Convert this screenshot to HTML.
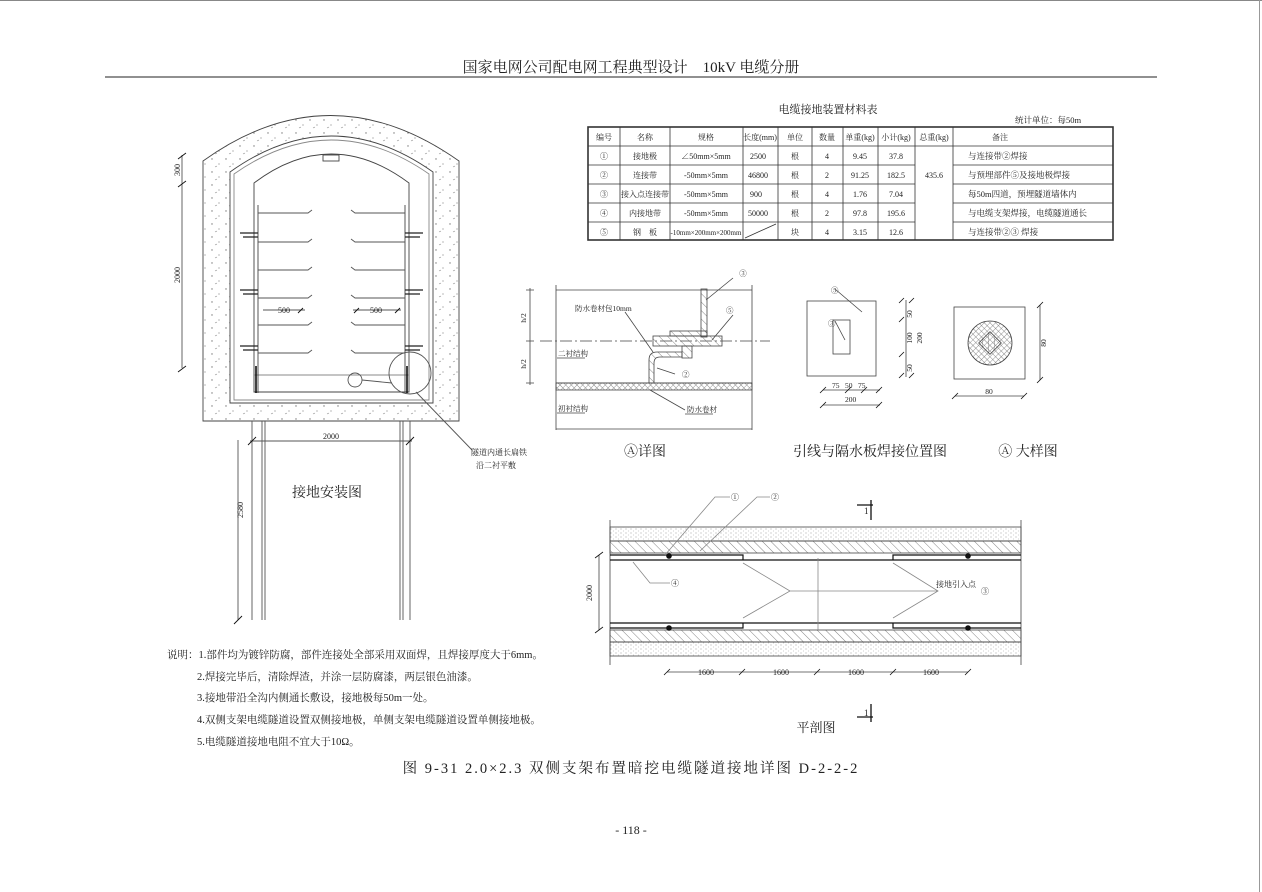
<!DOCTYPE html>
<html><head><meta charset="utf-8"><style>
html,body{margin:0;padding:0;background:#fff;}
svg{display:block;}
text{font-family:"Liberation Serif","Noto Serif CJK SC","Noto Sans CJK SC",serif;fill:#222;}
</style></head><body>
<svg width="1262" height="892" viewBox="0 0 1262 892" xmlns="http://www.w3.org/2000/svg">
<defs>
<pattern id="dots" width="14" height="13" patternUnits="userSpaceOnUse">
<circle cx="2" cy="3" r="0.7" fill="#777"/><circle cx="9" cy="8" r="0.6" fill="#888"/><path d="M5 11l2 -1" stroke="#888" stroke-width="0.6"/>
</pattern>
<pattern id="fdots" width="5" height="4" patternUnits="userSpaceOnUse">
<circle cx="1" cy="1" r="0.5" fill="#888"/><circle cx="3.5" cy="3" r="0.4" fill="#999"/>
</pattern>
<pattern id="hatch" width="6" height="6" patternUnits="userSpaceOnUse" patternTransform="rotate(-45)">
<line x1="0" y1="0" x2="0" y2="6" stroke="#666" stroke-width="0.8"/>
</pattern>
<pattern id="xh" width="4" height="4" patternUnits="userSpaceOnUse" patternTransform="rotate(45)">
<path d="M0 0V4M0 0H4" stroke="#666" stroke-width="0.7"/>
</pattern>
</defs>
<g fill="none" stroke="#333" stroke-width="1">
<line x1="0" y1="0.5" x2="1262" y2="0.5" stroke="#888"/>
<line x1="1259.5" y1="0" x2="1259.5" y2="892" stroke="#999"/>
<line x1="105" y1="77" x2="1157" y2="77" stroke="#222"/>
</g>
<text x="631" y="72" font-size="15" text-anchor="middle">国家电网公司配电网工程典型设计　10kV 电缆分册</text>

<!-- Tunnel -->
<g stroke="#444" stroke-width="0.9">
<path d="M203 421 V161 Q330 70 459 161 V421 Z" fill="url(#dots)"/>
<path d="M230 403 V172 Q331 100 433 172 V403 Z" fill="#fff"/>
<path d="M234 400 V174 Q331 106 429 174 V400 Z" fill="none" stroke="#888"/>
<path d="M254 392 V183 Q331 125 409 183 V392 Z" fill="#fff"/>
<rect x="323" y="155" width="16" height="6" fill="#fff"/>
<line x1="254" y1="375" x2="409" y2="375" stroke="#888"/>
<line x1="258" y1="205" x2="258" y2="393"/><line x1="405" y1="205" x2="405" y2="393"/>
<path d="M256 393 V366 M407 393 V366" stroke="#111" stroke-width="1.6"/>
</g>
<g stroke="#555" stroke-width="0.9" fill="none">
<path d="M258 213h50l4-3M258 242h50l4-3M258 270h50l4-3M258 298h50l4-3M258 325h50l4-3M258 353h50l4-3"/>
<path d="M405 213h-50l-4-3M405 242h-50l-4-3M405 270h-50l-4-3M405 298h-50l-4-3M405 325h-50l-4-3M405 353h-50l-4-3"/>
<path d="M240 233h18M243 237h15M240 290h18M243 294h15M240 346h18M243 350h15M405 233h18M405 237h15M405 290h18M405 294h15M405 346h18M405 350h15" stroke="#222" stroke-width="1.3"/>
<line x1="263" y1="310" x2="305" y2="310"/><line x1="353" y1="310" x2="401" y2="310"/>
<circle cx="355" cy="380" r="7"/><line x1="362" y1="380" x2="392" y2="383"/>
<circle cx="410" cy="373" r="21"/>
<line x1="416" y1="392" x2="472" y2="450"/>
<line x1="252" y1="421" x2="252" y2="620"/><line x1="262" y1="421" x2="262" y2="620"/><line x1="265" y1="421" x2="265" y2="620"/>
<line x1="400" y1="421" x2="400" y2="620"/><line x1="403" y1="421" x2="403" y2="620"/><line x1="410" y1="421" x2="410" y2="620"/>
<line x1="250" y1="441" x2="412" y2="441"/>
<line x1="238" y1="440" x2="238" y2="620"/>
<line x1="182" y1="155" x2="182" y2="368"/>
<path d="M178 159l8-6M178 187l8-6M178 372l8-6M248 445l8-8M406 445l8-8M234 624l8-8M298 313l5-5M354 313l5-5M395 313l5-5" stroke="#111"/>
</g>
<g font-size="8">
<text x="180" y="170" transform="rotate(-90 180 170)" text-anchor="middle">300</text>
<text x="180" y="275" transform="rotate(-90 180 275)" text-anchor="middle">2000</text>
<text x="243" y="510" transform="rotate(-90 243 510)" text-anchor="middle">2580</text>
<text x="278" y="313">500</text><text x="370" y="313">500</text>
<text x="331" y="439" text-anchor="middle">2000</text>
<text x="471" y="455">隧道内通长扁铁</text><text x="476" y="468">沿二衬平敷</text>
</g>
<text x="327" y="497" font-size="14" text-anchor="middle">接地安装图</text>

<!-- Notes -->
<g font-size="10.5">
<text x="167" y="658">说明：1.部件均为镀锌防腐，部件连接处全部采用双面焊，且焊接厚度大于6mm。</text>
<text x="197" y="680">2.焊接完毕后，清除焊渣，并涂一层防腐漆，两层银色油漆。</text>
<text x="197" y="701">3.接地带沿全沟内侧通长敷设，接地极每50m一处。</text>
<text x="197" y="723">4.双侧支架电缆隧道设置双侧接地极，单侧支架电缆隧道设置单侧接地极。</text>
<text x="197" y="745">5.电缆隧道接地电阻不宜大于10Ω。</text>
</g>
<text x="631" y="773" font-size="14.5" letter-spacing="2" text-anchor="middle">图 9-31 2.0×2.3 双侧支架布置暗挖电缆隧道接地详图 D-2-2-2</text>
<text x="631" y="834" font-size="12" text-anchor="middle">- 118 -</text>

<!-- Table -->
<text x="828" y="113" font-size="11" text-anchor="middle">电缆接地装置材料表</text>
<text x="1015" y="123" font-size="8.5">统计单位：每50m</text>
<g stroke="#333" fill="none" stroke-width="0.8">
<rect x="588" y="127" width="525" height="113" stroke-width="1.6"/>
<path d="M588 146H1113M588 165H915M953 165H1113M588 184H915M953 184H1113M588 203H915M953 203H1113M588 222H915M953 222H1113"/>
<path d="M620 127V240M670 127V240M743 127V240M778 127V240M812 127V240M843 127V240M878 127V240M915 127V240M953 127V240"/>
<line x1="745" y1="238" x2="776" y2="224"/>
</g>
<g font-size="8" text-anchor="middle">
<text x="604" y="140">编号</text><text x="645" y="140">名称</text><text x="706" y="140">规格</text><text x="760" y="140">长度(mm)</text><text x="795" y="140">单位</text><text x="827" y="140">数量</text><text x="860" y="140">单重(kg)</text><text x="896" y="140">小计(kg)</text><text x="934" y="140">总重(kg)</text><text x="1000" y="140">备注</text>
<text x="604" y="159">①</text><text x="645" y="159">接地极</text><text x="706" y="159">∠50mm×5mm</text><text x="758" y="159">2500</text><text x="795" y="159">根</text><text x="827" y="159">4</text><text x="860" y="159">9.45</text><text x="896" y="159">37.8</text>
<text x="604" y="178">②</text><text x="645" y="178">连接带</text><text x="706" y="178">-50mm×5mm</text><text x="758" y="178">46800</text><text x="795" y="178">根</text><text x="827" y="178">2</text><text x="860" y="178">91.25</text><text x="896" y="178">182.5</text><text x="934" y="178">435.6</text>
<text x="604" y="197">③</text><text x="645" y="197">接入点连接带</text><text x="706" y="197">-50mm×5mm</text><text x="756" y="197">900</text><text x="795" y="197">根</text><text x="827" y="197">4</text><text x="860" y="197">1.76</text><text x="896" y="197">7.04</text>
<text x="604" y="216">④</text><text x="645" y="216">内接地带</text><text x="706" y="216">-50mm×5mm</text><text x="758" y="216">50000</text><text x="795" y="216">根</text><text x="827" y="216">2</text><text x="860" y="216">97.8</text><text x="896" y="216">195.6</text>
<text x="604" y="235">⑤</text><text x="645" y="235">钢　板</text><text x="706" y="235" font-size="7">-10mm×200mm×200mm</text><text x="795" y="235">块</text><text x="827" y="235">4</text><text x="860" y="235">3.15</text><text x="896" y="235">12.6</text>
</g>
<g font-size="8.5">
<text x="968" y="159">与连接带②焊接</text>
<text x="968" y="178">与预埋部件⑤及接地极焊接</text>
<text x="968" y="197">每50m四道，预埋隧道墙体内</text>
<text x="968" y="216">与电缆支架焊接，电缆隧道通长</text>
<text x="968" y="235">与连接带②③ 焊接</text>
</g>

<!-- Detail A -->
<g stroke="#444" stroke-width="0.8" fill="none">
<line x1="556" y1="290" x2="752" y2="290"/>
<line x1="540" y1="341" x2="770" y2="341" stroke-dasharray="12 3 2 3"/>
<line x1="556" y1="383" x2="752" y2="383"/>
<rect x="556" y="383" width="196" height="7" fill="url(#xh)"/>
<line x1="556" y1="429" x2="752" y2="429"/>
<line x1="556" y1="285" x2="556" y2="430"/><line x1="752" y1="285" x2="752" y2="430"/>
<line x1="530" y1="288" x2="530" y2="385"/>
<path d="M526 290h8M526 341h8M526 383h8"/>
<rect x="701" y="289" width="6" height="48" fill="url(#hatch)"/>
<rect x="670" y="331" width="37" height="5" fill="url(#hatch)"/>
<rect x="653" y="336" width="69" height="10" fill="url(#hatch)"/>
<path d="M682 346h10v12h-10z" fill="url(#hatch)"/>
<path d="M682 352h-25q-8 0-8 8v23h5v-20q0-6 6-6h22z" fill="url(#hatch)"/>
<line x1="625" y1="312" x2="653" y2="352"/>
<line x1="657" y1="368" x2="675" y2="374"/>
<line x1="650" y1="390" x2="685" y2="410"/>
<line x1="706" y1="300" x2="733" y2="278"/><line x1="712" y1="340" x2="733" y2="315"/>
<line x1="557" y1="358" x2="585" y2="358"/><line x1="557" y1="413" x2="585" y2="413"/><line x1="685" y1="414" x2="713" y2="414"/>
</g>
<g font-size="7.5">
<text x="526" y="318" transform="rotate(-90 526 318)" text-anchor="middle">h/2</text>
<text x="526" y="364" transform="rotate(-90 526 364)" text-anchor="middle">h/2</text>
<text x="575" y="311">防水卷材包10mm</text>
<text x="558" y="356">二衬结构</text><text x="558" y="411">初衬结构</text><text x="687" y="412">防水卷材</text>
<text x="743" y="276" text-anchor="middle">③</text><text x="726" y="313">⑤</text><text x="682" y="377">②</text>
</g>
<text x="645" y="456" font-size="14" text-anchor="middle">Ⓐ详图</text>

<!-- plate -->
<g stroke="#444" stroke-width="0.8" fill="none">
<rect x="807" y="301" width="69" height="75"/>
<rect x="833" y="320" width="17" height="34"/>
<line x1="835" y1="289" x2="862" y2="312"/><line x1="835" y1="321" x2="845" y2="340"/>
<line x1="906" y1="300" x2="906" y2="377"/>
<line x1="823" y1="390" x2="880" y2="390"/><line x1="823" y1="405" x2="880" y2="405"/>
<path d="M899 303l5-5M899 322l5-5M899 357l5-5M899 378l5-5M909 303l5-5M909 378l5-5M820 393l6-6M845 393l6-6M861 393l6-6M876 393l6-6M820 408l6-6M876 408l6-6" stroke="#111"/>
</g>
<g font-size="7.5">
<text x="831" y="293">⑤</text><text x="828" y="326">③</text>
<text x="912" y="314" transform="rotate(-90 912 314)" text-anchor="middle">50</text>
<text x="912" y="338" transform="rotate(-90 912 338)" text-anchor="middle">100</text>
<text x="922" y="338" transform="rotate(-90 922 338)" text-anchor="middle">200</text>
<text x="912" y="368" transform="rotate(-90 912 368)" text-anchor="middle">50</text>
<text x="832" y="388">75</text><text x="845" y="388">50</text><text x="858" y="388">75</text>
<text x="845" y="402">200</text>
</g>
<text x="870" y="456" font-size="14" text-anchor="middle">引线与隔水板焊接位置图</text>

<g stroke="#444" stroke-width="0.8" fill="none">
<rect x="954" y="307" width="71" height="72"/>
<circle cx="990" cy="343" r="22" fill="url(#xh)"/>
<rect x="982" y="335" width="16" height="16" transform="rotate(45 990 343)" fill="url(#hatch)"/>
<line x1="1040" y1="305" x2="1040" y2="380"/>
<line x1="955" y1="396" x2="1024" y2="396"/>
<path d="M952 399l6-6M1021 399l6-6M1037 308l6-6M1037 383l6-6" stroke="#111"/>
</g>
<text x="1046" y="343" font-size="7.5" transform="rotate(-90 1046 343)" text-anchor="middle">80</text>
<text x="989" y="394" font-size="7.5" text-anchor="middle">80</text>
<text x="1028" y="456" font-size="14" text-anchor="middle">Ⓐ 大样图</text>

<!-- Plan -->
<g stroke="#444" stroke-width="0.8" fill="none">
<rect x="610" y="527" width="411" height="14" fill="url(#fdots)"/>
<rect x="610" y="541" width="411" height="12" fill="url(#hatch)"/>
<rect x="610" y="630" width="411" height="12" fill="url(#hatch)"/>
<rect x="610" y="642" width="411" height="14" fill="url(#fdots)"/>
<line x1="610" y1="520" x2="610" y2="665"/><line x1="1021" y1="520" x2="1021" y2="665"/>
<path d="M610 555H743V560H893V555H1021M610 560H743M893 560H1021" stroke="#111" stroke-width="1.2"/>
<path d="M610 628H743V623H893V628H1021M610 623H743M893 623H1021" stroke="#111" stroke-width="1.2"/>
<line x1="818" y1="558" x2="818" y2="630" stroke="#888"/>
<path d="M743 563L790 591L743 618M893 563L938 591L893 618M790 591H938" stroke="#888"/>
<path d="M665 555L715 497H730M700 551L757 497H770M633 562L650 583H670" stroke="#888"/>
<line x1="599" y1="555" x2="599" y2="630"/>
<path d="M595 558l8-6M595 633l8-6" stroke="#111"/>
<line x1="667" y1="672" x2="968" y2="672"/>
<path d="M664 675l6-6M739 675l6-6M814 675l6-6M890 675l6-6M965 675l6-6" stroke="#111"/>
<path d="M857 505H873M871 500V520M857 717H873M871 704V722" stroke="#111" stroke-width="1.3"/>
</g>
<g fill="#111"><circle cx="669" cy="556" r="2.8"/><circle cx="968" cy="556" r="2.8"/><circle cx="669" cy="628" r="2.8"/><circle cx="968" cy="628" r="2.8"/></g>
<g font-size="8">
<text x="731" y="500">①</text><text x="771" y="500">②</text><text x="671" y="586">④</text>
<text x="936" y="587">接地引入点</text><text x="981" y="594">③</text>
<text x="592" y="593" transform="rotate(-90 592 593)" text-anchor="middle">2000</text>
<text x="706" y="675" text-anchor="middle">1600</text><text x="781" y="675" text-anchor="middle">1600</text><text x="856" y="675" text-anchor="middle">1600</text><text x="931" y="675" text-anchor="middle">1600</text>
</g>
<text x="864" y="514" font-size="9">1</text><text x="864" y="716" font-size="9">1</text>
<text x="816" y="732" font-size="13" text-anchor="middle">平剖图</text>
</svg>
</body></html>
